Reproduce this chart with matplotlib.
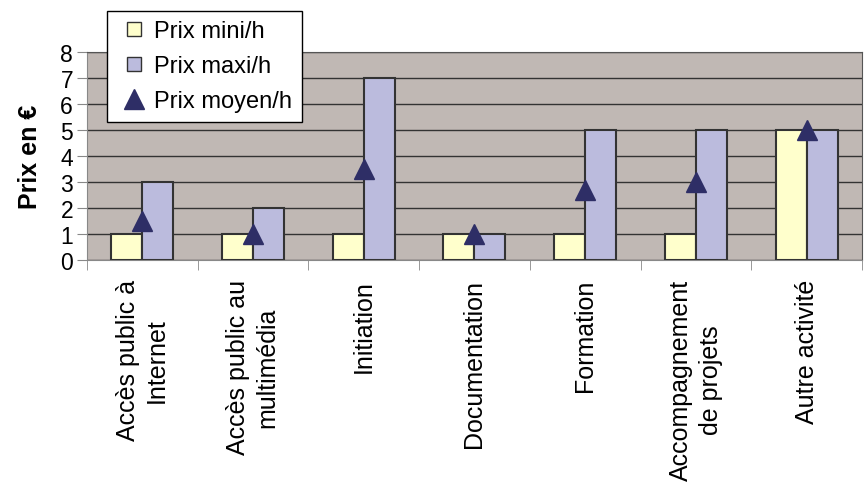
import numpy as np
import matplotlib.pyplot as plt
from matplotlib.lines import Line2D

plt.rcParams['font.family'] = ['Liberation Sans', 'DejaVu Sans']

categories = ["Accès public à\nInternet", "Accès public au\nmultimédia", "Initiation",
              "Documentation", "Formation", "Accompagnement\nde projets", "Autre activité"]
prix_mini = [1, 1, 1, 1, 1, 1, 5]
prix_maxi = [3, 2, 7, 1, 5, 5, 5]
prix_moyen = [1.5, 1.0, 3.5, 1.0, 2.7, 3.0, 5.0]

yellow = '#FFFFCC'
lilac = '#BBBBDD'
navy = '#2E2E66'
edge = '#333333'

fig = plt.figure(figsize=(8.67, 4.89), dpi=100)
ax = fig.add_axes([0.1003, 0.466, 0.8939, 0.4256])
ax.set_facecolor('#C0B8B4')

x = np.arange(len(categories))
w = 0.28
ax.bar(x - w / 2, prix_mini, w, color=yellow, edgecolor=edge, linewidth=1.5, zorder=3)
ax.bar(x + w / 2, prix_maxi, w, color=lilac, edgecolor=edge, linewidth=1.5, zorder=3)
ax.plot(x, prix_moyen, linestyle='none', marker='^', markersize=15,
        color=navy, zorder=4)

ax.set_xlim(-0.5, len(categories) - 0.5)
ax.set_ylim(0, 8)
ax.set_yticks(range(0, 9))
ax.yaxis.grid(True, color='#333333', linewidth=1.0, zorder=1)
ax.tick_params(axis='y', labelsize=16.5, length=7, color='#888888', pad=3)

# category labels: rotated, centred under each group
ax.set_xticks(x)
ax.set_xticklabels(categories, rotation=90, fontsize=18, va='top', ha='center',
                   multialignment='center', linespacing=1.28)
ax.tick_params(axis='x', which='major', length=0, pad=13.5)
ax.set_xticks(np.arange(len(categories) + 1) - 0.5, minor=True)
ax.tick_params(axis='x', which='minor', length=7, color='#888888', direction='out')

for side in ['left', 'bottom']:
    ax.spines[side].set_color('#888888')
ax.spines['top'].set_color('#555555')
ax.spines['right'].set_color('#555555')

ax.set_ylabel('Prix en €', fontsize=18, fontweight='bold', labelpad=13)

handles = [Line2D([], [], linestyle='none', marker='s', markersize=10,
                  markerfacecolor=yellow, markeredgecolor=edge, markeredgewidth=1),
           Line2D([], [], linestyle='none', marker='s', markersize=10,
                  markerfacecolor=lilac, markeredgecolor=edge, markeredgewidth=1),
           Line2D([], [], linestyle='none', marker='^', markersize=14, color=navy)]
leg = fig.legend(handles, ['Prix mini/h', 'Prix maxi/h', 'Prix moyen/h'],
                 loc='upper left', bbox_to_anchor=(0.1234, 0.9755), fontsize=17,
                 fancybox=False, framealpha=1, edgecolor='black',
                 handlelength=1.45, handletextpad=0.15,
                 labelspacing=0.55, borderpad=0.4, borderaxespad=0)
leg.get_frame().set_linewidth(1)

fig.savefig('out.png', dpi=100)
